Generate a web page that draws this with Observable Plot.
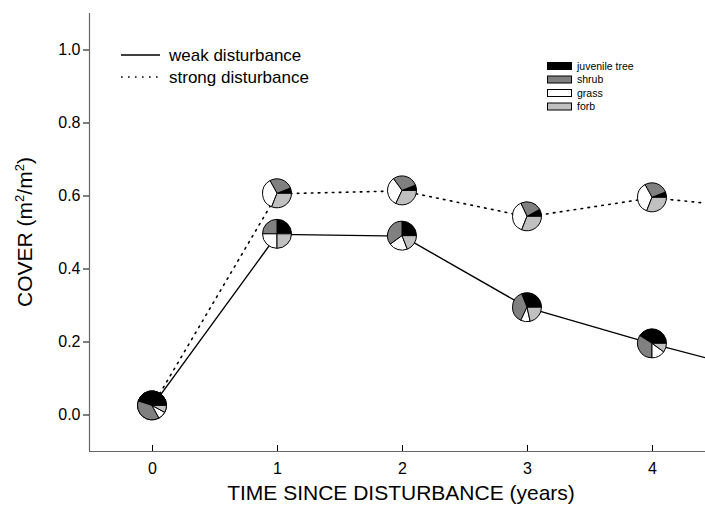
<!DOCTYPE html>
<html><head><meta charset="utf-8">
<script src="https://cdn.jsdelivr.net/npm/d3@7"></script>
<script src="https://cdn.jsdelivr.net/npm/@observablehq/plot@0.6"></script>
<style>html,body{margin:0;padding:0;background:#fff} svg{display:block}</style>
</head><body><div id="chart"></div>
<script>
// ---- data ----
const pieYears = [0, 1, 2, 3, 4];
const lineYears = [0, 1, 2, 3, 4, 5];
const weakCover = [0.025, 0.495, 0.49, 0.294, 0.195, 0.105];
const strongCover = [0.025, 0.606, 0.614, 0.543, 0.595, 0.561];
const seriesLabels = ["weak disturbance", "strong disturbance"];
const components = ["juvenile tree", "shrub", "grass", "forb"];
const componentColors = ["#000000", "#808080", "#ffffff", "#c0c0c0"];
// composition (fractions) per year 0..4
const weakTree   = [0.45, 0.25, 0.25, 0.31, 0.41];
const weakShrub  = [0.38, 0.25, 0.35, 0.37, 0.34];
const weakGrass  = [0.09, 0.25, 0.21, 0.105, 0.15];
const weakForb   = [0.08, 0.25, 0.19, 0.215, 0.10];
const strongTree  = [0.45, 0.06, 0.06, 0.08, 0.06];
const strongShrub = [0.38, 0.27, 0.29, 0.24, 0.27];
const strongGrass = [0.09, 0.36, 0.33, 0.37, 0.36];
const strongForb  = [0.08, 0.31, 0.32, 0.31, 0.31];
const xTicks = [0, 1, 2, 3, 4];
const yTicks = [0, 0.2, 0.4, 0.6, 0.8, 1.0];
const xDomain = [-0.504, 4.424];
const yDomain = [-0.1, 1.1];
const xTitle = "TIME SINCE DISTURBANCE (years)";

// ---- build ----
const font = "'Liberation Sans', Arial, Helvetica, sans-serif";
const weakData = lineYears.map((x, i) => ({x, y: weakCover[i]}));
const strongData = lineYears.map((x, i) => ({x, y: strongCover[i]}));
const pies = [];
pieYears.forEach((x, i) => pies.push({x, y: strongCover[i], parts: [strongTree[i], strongShrub[i], strongGrass[i], strongForb[i]]}));
pieYears.forEach((x, i) => pies.push({x, y: weakCover[i], parts: [weakTree[i], weakShrub[i], weakGrass[i], weakForb[i]]}));

const R = 14.5;
function pieMark(index, scales) {
  const g = d3.create("svg:g");
  const arc = d3.arc().innerRadius(0).outerRadius(R);
  for (const p of pies) {
    const cx = scales.x(p.x), cy = scales.y(p.y);
    const total = d3.sum(p.parts);
    let cum = 0;
    const pg = g.append("g").attr("transform", `translate(${cx},${cy})`);
    p.parts.forEach((v, k) => {
      const a0 = cum / total * 2 * Math.PI; cum += v;
      const a1 = cum / total * 2 * Math.PI;
      pg.append("path")
        .attr("d", arc({startAngle: Math.PI / 2 - a1, endAngle: Math.PI / 2 - a0}))
        .attr("fill", componentColors[k]).attr("stroke", "#000").attr("stroke-width", 1)
        .attr("stroke-linejoin", "round");
    });
  }
  return g.node();
}

const chart = Plot.plot({
  width: 705, height: 510,
  marginLeft: 89, marginRight: 0, marginTop: 13, marginBottom: 59,
  style: {fontFamily: font, background: "#fff", color: "#000"},
  x: {domain: xDomain},
  y: {domain: yDomain},
  marks: [
    Plot.ruleX([xDomain[0]], {stroke: "#666", strokeWidth: 1.2}),
    Plot.ruleY([yDomain[0]], {stroke: "#666", strokeWidth: 1.2}),
    Plot.axisY({ticks: yTicks, tickFormat: d3.format(".1f"), tickSize: 6, tickPadding: 3, fontSize: 16, label: null}),
    Plot.axisX({ticks: xTicks, tickFormat: d3.format("d"), tickSize: -6, tickPadding: 17, fontSize: 16, label: null}),
    Plot.line(strongData, {x: "x", y: "y", stroke: "#000", strokeWidth: 1.6, strokeDasharray: "1.6,5.4", clip: true}),
    Plot.line(weakData, {x: "x", y: "y", stroke: "#000", strokeWidth: 1.4, clip: true}),
    pieMark
  ]
});
document.getElementById("chart").appendChild(chart);

// ---- titles & legends ----
const svg = d3.select(chart);
svg.append("text").attr("x", 401).attr("y", 500).attr("text-anchor", "middle")
  .attr("font-size", 21).attr("font-family", font).attr("fill", "#000").text(xTitle);
const yt = svg.append("text").attr("transform", "translate(32,232) rotate(-90)").attr("text-anchor", "middle")
  .attr("font-size", 21).attr("font-family", font).attr("fill", "#000");
yt.append("tspan").text("COVER (m");
yt.append("tspan").attr("font-size", 13).attr("dy", -8).text("2");
yt.append("tspan").attr("dy", 8).text("/m");
yt.append("tspan").attr("font-size", 13).attr("dy", -8).text("2");
yt.append("tspan").attr("dy", 8).text(")");

const lg = svg.append("g").attr("font-family", font).attr("text-anchor", "start");
const lineStyles = [null, "1.6,5.4"];
seriesLabels.forEach((s, i) => {
  const yy = 55 + i * 22;
  const ln = lg.append("line").attr("x1", 121).attr("x2", 160).attr("y1", yy).attr("y2", yy)
    .attr("stroke", "#000").attr("stroke-width", i ? 1.6 : 1.4);
  if (lineStyles[i]) ln.attr("stroke-dasharray", lineStyles[i]);
  lg.append("text").attr("x", 169).attr("y", yy).attr("dy", "0.35em").attr("text-anchor", "start")
    .attr("font-size", 17).attr("fill", "#000").text(s);
});
const lg2 = svg.append("g").attr("font-family", font).attr("text-anchor", "start");
components.forEach((c, i) => {
  const yy = 66 + i * 13.5;
  lg2.append("rect").attr("x", 547.5).attr("y", yy - 3.5).attr("width", 24).attr("height", 7)
    .attr("fill", componentColors[i]).attr("stroke", "#000").attr("stroke-width", 1);
  lg2.append("text").attr("x", 577).attr("y", yy).attr("dy", "0.35em").attr("text-anchor", "start")
    .attr("font-size", 10.5).attr("fill", "#000").text(c);
});
</script>
</body></html>
